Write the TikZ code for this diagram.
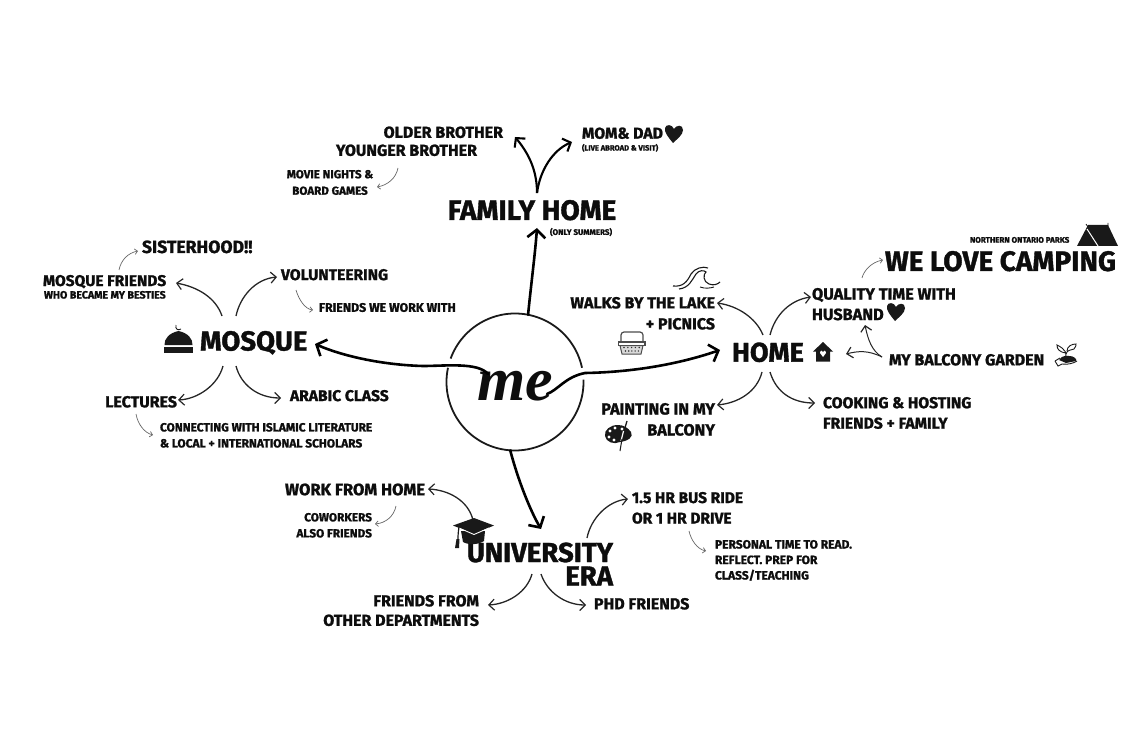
\documentclass[tikz,border=0pt]{standalone}
\usepackage{fontspec}
\setmainfont{Fira Sans}[BoldFont={Fira Sans Bold},BoldFeatures={FakeBold=1.3}]
\newfontfamily\mescript{Liberation Serif}[BoldFont={Liberation Serif Bold Italic}]
\usetikzlibrary{arrows.meta}
\newcommand\fs[2]{\fontsize{#1pt}{#2pt}\selectfont\bfseries}
\tikzset{
  lab/.style={inner sep=0pt,outer sep=0pt,text=black!95},
  main/.style={line width=2.6pt,line cap=round,-{Straight Barb[length=8pt,width=18pt,line width=2.6pt]}},
  branch/.style={line width=2.1pt,-{Straight Barb[length=6.5pt,width=14pt,line width=2.1pt]}},
  mid/.style={line width=1.3pt,black!85,-{Straight Barb[length=5.5pt,width=11pt,line width=1.2pt]}},
  midthin/.style={mid,line width=1pt},
  fine/.style={line width=.7pt,black!60,-{Straight Barb[length=2.8pt,width=5.5pt,line width=.7pt]}},
  ring/.style={line width=1.8pt,black!90},
  icon/.style={black!90},
}
% connector between two named end points: style, name, start, first control, second control, end
\newcommand\link[6]{\coordinate (#2-a) at (#3); \coordinate (#2-b) at (#6); \draw[#1] (#2-a) .. controls (#4) and (#5) .. (#2-b);}
\newcommand\heartat[2]{\fill[icon,shift={(#1,#2)}] (8,18) .. controls (3,12) and (-1,7) .. (0,3) .. controls (1,-1) and (7,-1) .. (9,4) .. controls (11,0) and (18,-1) .. (18,5) .. controls (18,10) and (12,14) .. (8,18) -- cycle;}
\begin{document}
\begin{tikzpicture}[x=1pt,y=-1pt]
\useasboundingbox (0,0) rectangle (1141,730);
% hub circle
\node[circle,minimum size=137pt,inner sep=0pt,outer sep=0pt] (hub) at (515,382) {};
\draw[ring] (hub.12) arc[start angle=12,end angle=160,radius=68.5pt];
\draw[ring] (hub.168) arc[start angle=168,end angle=362,radius=68.5pt];
\node[lab,font=\mescript\bfseries\fontsize{62pt}{62pt}\selectfont] (me) at (515,386) {me};
\coordinate (meL) at (488,374);
\coordinate (meR) at (547,394);
% family home
\node[lab,anchor=north,font=\fs{28}{28}] (family) at (532,200) {FAMILY HOME};
\node[lab,anchor=north west,font=\fs{8}{9}] (summers) at (550,228) {(ONLY SUMMERS)};
\node[lab,anchor=north east,font=\fs{16}{18}] (older) at (503,126.5) {OLDER BROTHER};
\node[lab,anchor=north east,font=\fs{16}{18}] (younger) at (477,144.5) {YOUNGER BROTHER};
\node[lab,anchor=north,align=center,font=\fs{11.6}{16.5}] (movie) at (330,170) {MOVIE NIGHTS \&\\BOARD GAMES};
\node[lab,anchor=north west,font=\fs{15.8}{18}] (mom) at (582,127.5) {MOM\& DAD};
\node[lab,anchor=north west,font=\fs{7.6}{8}] (abroad) at (582,144) {(LIVE ABROAD \& VISIT)};
\heartat{665}{125}
\draw[main] (hub.79) .. controls (531,285) and (535,255) .. (537,228);
\link{branch}{famL}{537,193}{537,172}{530,155}{515,137}
\link{branch}{famR}{537,193}{540,170}{553,150}{572,142}
\link{fine}{movieLink}{398,168}{396,178}{388,185}{377,187}
% mosque
\node[lab,anchor=north west,font=\fs{27.5}{28}] (mosque) at (200,331) {MOSQUE};
\node[lab,anchor=north west,font=\fs{17.6}{18}] (sister) at (142,240.5) {SISTERHOOD!!};
\node[lab,anchor=north west,font=\fs{15.5}{17}] (mfriends) at (43,275) {MOSQUE FRIENDS};
\node[lab,anchor=north west,font=\fs{10.6}{11}] (besties) at (44,291) {WHO BECAME MY BESTIES};
\node[lab,anchor=north west,font=\fs{15.6}{17}] (volunteer) at (281,269) {VOLUNTEERING};
\node[lab,anchor=north west,font=\fs{12.4}{12}] (fwork) at (319,303) {FRIENDS WE WORK WITH};
\node[lab,anchor=north east,font=\fs{16}{17}] (lectures) at (177,396) {LECTURES};
\node[lab,anchor=north west,font=\fs{15.6}{17}] (arabic) at (290,390) {ARABIC CLASS};
\node[lab,anchor=north west,align=left,font=\fs{11.9}{16}] (islamic) at (160,423) {CONNECTING WITH ISLAMIC LITERATURE\\\& LOCAL + INTERNATIONAL SCHOLARS};
\draw[main] (meL) .. controls (478,362) and (445,366) .. (423,366) .. controls (385,365) and (345,357) .. (315,344);
\link{mid}{mA}{222,316}{216,298}{198,287}{176,283}
\link{mid}{mB}{236,316}{240,297}{255,279}{277,277}
\link{mid}{mC}{223,366}{218,385}{198,399}{178,400}
\link{mid}{mD}{236,366}{241,385}{258,398}{281,398}
\link{fine}{sisterLink}{119,270}{121,260}{128,253}{138,251}
\link{fine}{workLink}{296,290}{299,300}{305,309}{313,310}
\link{fine}{islamicLink}{136,414}{138,425}{145,433}{153,435}
% dome icon
\fill[icon] (178.5,331) .. controls (169,333) and (164,339) .. (164.5,345) -- (192.5,345) .. controls (193,339) and (188,333) .. (178.5,331) -- cycle;
\fill[icon] (164,346.5) rectangle (193,352.5);
\draw[icon,line width=.9pt] (176,325) .. controls (175,329) and (178,331) .. (181,329);
% home
\node[lab,anchor=north west,font=\fs{27}{27}] (home) at (732,342.5) {HOME};
\node[lab,anchor=north west,font=\fs{28}{28}] (camping) at (885,251) {WE LOVE CAMPING};
\node[lab,anchor=north west,font=\fs{8}{8}] (parks) at (970,237) {NORTHERN ONTARIO PARKS};
\node[lab,anchor=north west,align=left,font=\fs{16.3}{20.5}] (quality) at (812,288) {QUALITY TIME WITH\\HUSBAND};
\node[lab,anchor=north west,font=\fs{16}{16}] (garden) at (889,354) {MY BALCONY GARDEN};
\node[lab,anchor=north west,align=left,font=\fs{15.7}{20.5}] (cooking) at (823,397) {COOKING \& HOSTING\\FRIENDS + FAMILY};
\node[lab,anchor=north east,align=right,font=\fs{16}{21}] (walks) at (715,297) {WALKS BY THE LAKE\\+ PICNICS};
\node[lab,anchor=north east,align=right,font=\fs{16.2}{21}] (painting) at (715,403) {PAINTING IN MY\\BALCONY\hspace{5pt}};
\draw[main] (meR) .. controls (558,390) and (565,377) .. (585,373) .. controls (640,372) and (685,362) .. (720,350);
\link{mid}{hA}{763,335}{756,318}{738,306}{717,303}
\link{mid}{hB}{770,335}{775,315}{790,300}{811,297}
\link{mid}{hC}{762,372}{757,392}{738,403}{717,405}
\link{mid}{hD}{770,372}{776,392}{792,403}{815,403}
\link{fine}{campLink}{862,278}{864,270}{872,262}{883,260}
\link{midthin}{gA}{882,357}{872,351}{868,340}{865,325}
\link{midthin}{gB}{882,357}{868,350}{858,351}{846,354}
\heartat{887}{303}
% house icon
\fill[icon] (823,342) -- (833,351.5) -- (830,351.5) -- (830,361.5) -- (816,361.5) -- (816,351.5) -- (813,351.5) -- cycle;
\fill[white] (820,353) .. controls (820,350) and (823,350) .. (823,352) .. controls (823,350) and (826,350) .. (826,353) -- (823,357) -- cycle;
% tent
\fill[icon] (1088,225) -- (1108,225) -- (1118,246) -- (1077,246) -- cycle;
\draw[white,line width=1pt] (1087,229) -- (1098,246);
\draw[icon,line width=.8pt] (1086,224) -- (1088,227) (1108,223) -- (1108,226);
% plant
\draw[icon,line width=.9pt] (1066,357) .. controls (1066,352) and (1065,350) .. (1062,348) .. controls (1060,346) and (1058,346) .. (1057,345) .. controls (1057,349) and (1059,352) .. (1066,353);
\draw[icon,line width=.9pt] (1066,354) .. controls (1067,350) and (1071,350) .. (1074,349) .. controls (1076,347) and (1076,345) .. (1076,344) .. controls (1072,344) and (1067,346) .. (1067,351);
\fill[icon] (1059,360) .. controls (1061,355) and (1072,354) .. (1076,359) -- (1076,361) -- (1066,363) -- cycle;
\draw[icon,line width=.9pt] (1055,361) -- (1058,366) -- (1062,364) .. controls (1068,365) and (1074,363) .. (1077,361);
\draw[icon,line width=.9pt] (1055,361) -- (1060,358);
% wave
\draw[icon,line width=1.1pt] (673,286) .. controls (683,287) and (687,282) .. (691,274) .. controls (695,268) and (703,266) .. (708,268);
\draw[icon,line width=1.1pt] (679,289) .. controls (689,288) and (692,280) .. (696,274) .. controls (699,270) and (704,270) .. (706,272) .. controls (703,274) and (703,282) .. (709,284) .. controls (714,286) and (718,284) .. (720,282);
\draw[icon,line width=.9pt] (700,287) .. controls (705,289) and (711,288) .. (714,287);
% basket
\draw[black!70,line width=1.2pt,rounded corners=3pt] (621,342) -- (621,332) -- (643,332) -- (643,342);
\draw[black!70,line width=1.2pt,fill=white] (618.5,342) rectangle (645,345.5);
\draw[black!70,line width=1pt,fill=black!15] (620,345.5) -- (643,345.5) -- (641,354) -- (622,354) -- cycle;
\foreach \dx in {0,1,2,3,4}{\fill[black!80] (624+\dx*3.8,347.5) circle[radius=.8pt];\fill[black!80] (625.5+\dx*3.2,351) circle[radius=.8pt];}
% palette
\fill[icon] (618,425) .. controls (610,425) and (604,430) .. (605,436) .. controls (606,442) and (614,445) .. (620,442) .. controls (628,441) and (634,437) .. (631,432) .. controls (628,428) and (624,425) .. (618,425) -- cycle;
\foreach \px/\py in {610/431,615/428,609/437,614/440,622/429}{\fill[white] (\px,\py) circle[radius=1.6pt];}
\draw[icon,line width=1.3pt] (627,421) -- (624,431);
\draw[white,line width=1.2pt] (623.5,431) -- (621,441);
\draw[icon,line width=1pt] (622,439) -- (620,451);
% university
\node[lab,anchor=north east,align=right,font=\fs{27.5}{23.5}] (univ) at (613,542.5) {UNIVERSITY\\ERA};
\node[lab,anchor=north east,font=\fs{16.5}{16}] (wfh) at (425,483.5) {WORK FROM HOME};
\node[lab,anchor=north east,align=right,font=\fs{11.8}{16}] (coworkers) at (372,513) {COWORKERS\\ALSO FRIENDS};
\node[lab,anchor=north east,align=right,font=\fs{16}{19.5}] (ofriends) at (479,595) {FRIENDS FROM\\OTHER DEPARTMENTS};
\node[lab,anchor=north west,align=left,font=\fs{15.5}{20.5}] (bus) at (632,492) {1.5 HR BUS RIDE\\OR 1 HR DRIVE};
\node[lab,anchor=north west,align=left,font=\fs{12}{15.5}] (personal) at (715,540) {PERSONAL TIME TO READ.\\REFLECT. PREP FOR\\CLASS/TEACHING};
\node[lab,anchor=north west,font=\fs{16}{16}] (phd) at (594,598) {PHD FRIENDS};
\draw[main] (hub.266) .. controls (518,480) and (530,510) .. (541,529);
\link{mid}{uA}{473,520}{468,500}{448,490}{428,489}
\link{mid}{uB}{587,538}{591,518}{608,501}{628,499}
\link{mid}{uC}{532,574}{527,592}{508,604}{488,605}
\link{mid}{uD}{541,574}{547,592}{565,605}{586,605}
\link{fine}{coLink}{396,506}{394,516}{386,523}{375,524}
\link{fine}{persLink}{689,531}{691,540}{697,549}{706,551}
% graduation cap
\fill[icon] (461,531) -- (485,531) -- (484,541) .. controls (478,545) and (468,545) .. (463,542) -- cycle;
\fill[icon] (453,525.5) -- (474,518) -- (494,525.5) -- (474,534) -- cycle;
\draw[white,line width=.9pt] (459,528) -- (474,534.5) -- (489,528);
\draw[icon,line width=1.2pt] (459,527) .. controls (458,533) and (458,537) .. (458,540);
\fill[icon] (456.5,539) -- (459.5,539) -- (459,548) -- (455,548) -- cycle;
\end{tikzpicture}
\end{document}
